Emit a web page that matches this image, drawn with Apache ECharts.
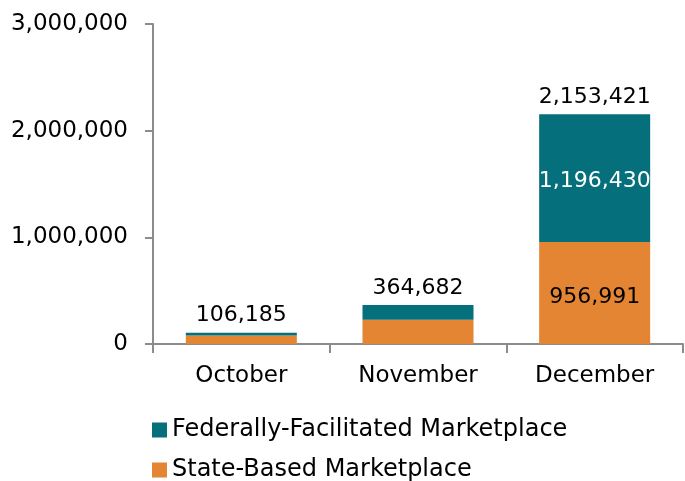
<!DOCTYPE html>
<html>
<head>
<meta charset="utf-8">
<script src="https://cdn.jsdelivr.net/npm/echarts@6/dist/echarts.min.js"></script>
<style>
  html, body { margin: 0; padding: 0; background: #fff; }
  #chart { width: 685px; height: 481px; }
</style>
</head>
<body>
<div id="chart"></div>
<script>
const months = ['October', 'November', 'December'];
const federal = [26794, 137204, 1196430];
const stateBased = [79391, 227478, 956991];
const totals = [106185, 364682, 2153421];
const yTicks = [0, 1000000, 2000000, 3000000];

const fmt = v => v.toLocaleString('en-US');
const font = 'DejaVu Sans, sans-serif';
const FED = 'Federally-Facilitated Marketplace';
const SBM = 'State-Based Marketplace';

const chart = echarts.init(document.getElementById('chart'));

const legendItem = (name, top) => ({
    data: [name],
    left: 147,
    top: top,
    itemWidth: 15,
    itemHeight: 15,
    itemGap: 0,
    icon: 'rect',
    textStyle: { fontSize: 24, color: '#000', fontFamily: font }
});

chart.setOption({
    animation: false,
    textStyle: { fontFamily: font },
    grid: { left: 153, right: 2, top: 24, bottom: 137 },
    legend: [legendItem(FED, 413), legendItem(SBM, 453)],
    xAxis: {
        type: 'category',
        data: months,
        axisLine: { lineStyle: { color: '#8c8c8c', width: 2 } },
        axisTick: { show: true, length: 9, lineStyle: { color: '#8c8c8c', width: 2 } },
        axisLabel: { fontSize: 23, color: '#000', margin: 21, fontFamily: font }
    },
    yAxis: {
        type: 'value',
        min: yTicks[0],
        max: yTicks[yTicks.length - 1],
        interval: 1000000,
        splitLine: { show: false },
        axisLine: { show: true, lineStyle: { color: '#8c8c8c', width: 2 } },
        axisTick: { show: true, length: 8, lineStyle: { color: '#8c8c8c', width: 2 } },
        axisLabel: { fontSize: 23, color: '#000', margin: 25, fontFamily: font, formatter: v => fmt(v) }
    },
    series: [
        {
            name: SBM,
            type: 'bar',
            stack: 'total',
            barWidth: 111,
            itemStyle: { color: '#E38533' },
            data: stateBased.map((v, i) => ({
                value: v,
                label: {
                    show: i === 2, position: 'inside', color: '#000', fontSize: 22,
                    fontFamily: font, offset: [0, 4],
                    formatter: p => fmt(p.value)
                }
            }))
        },
        {
            name: FED,
            type: 'bar',
            stack: 'total',
            itemStyle: { color: '#05707B' },
            data: federal.map((v, i) => ({
                value: v,
                label: {
                    show: i === 2, position: 'inside', color: '#fff', fontSize: 22,
                    fontFamily: font, offset: [0, 3],
                    formatter: p => fmt(p.value)
                }
            }))
        },
        {
            name: 'Total',
            type: 'bar',
            stack: 'total',
            silent: true,
            data: totals.map(() => 0),
            label: {
                show: true, position: 'top', color: '#000', fontSize: 22, distance: 6,
                fontFamily: font,
                formatter: p => fmt(totals[p.dataIndex])
            }
        }
    ]
});
</script>
</body>
</html>
